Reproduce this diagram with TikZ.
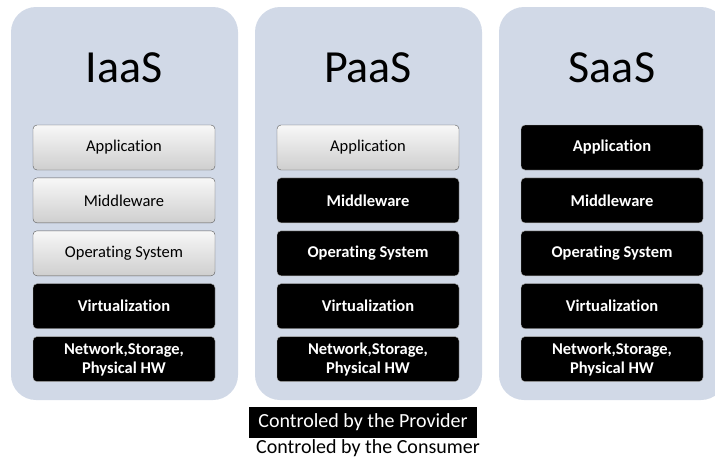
\documentclass[tikz,border=0pt]{standalone}
\usepackage{fontspec}
\setmainfont{Carlito}[Ligatures=NoCommon]
\usetikzlibrary{positioning}
\definecolor{panelblue}{HTML}{D1D9E7}
\tikzstyle{panel}=[rectangle,fill=panelblue,rounded corners=25pt,minimum width=227pt,minimum height=393pt,inner sep=0pt]
\tikzstyle{title}=[anchor=base,font=\fontsize{46}{50}\selectfont]
\tikzstyle{consumer}=[rectangle,draw=black!65,top color=gray!6,bottom color=gray!38,rounded corners=4pt,minimum width=182pt,minimum height=45pt,inner sep=0pt,align=center,font=\fontsize{16.5}{19}\selectfont]
\tikzstyle{provider}=[rectangle,draw=gray!60,fill=black,text=white,rounded corners=4pt,minimum width=182pt,minimum height=45pt,inner sep=0pt,align=center,font=\bfseries\fontsize{16.5}{19}\selectfont]
\tikzstyle{legendbox}=[rectangle,fill=black,text=white,minimum width=228pt,minimum height=31pt,inner sep=0pt,font=\fontsize{20}{24}\selectfont]

\begin{document}
\begin{tikzpicture}[x=1pt,y=-1pt]
    \clip (0,0) rectangle (715,459);

    % Spalten
    \node[panel] (iaas) at (124.5,203.5) {};
    \node[panel] (paas) at (368.5,203.5) {};
    \node[panel] (saas) at (612.5,203.5) {};
    \node[title] (tiaas) at (124,82) {IaaS};
    \node[title] (tpaas) at (368,82) {PaaS};
    \node[title] (tsaas) at (612,82) {SaaS};

    % IaaS
    \node[consumer] (iapp) at (124,147.5) {Application};
    \node[consumer] (imid) [below=7.5pt of iapp] {Middleware};
    \node[consumer] (ios) [below=7.5pt of imid] {Operating System};
    \node[provider] (ivirt) [below=7.5pt of ios] {Virtualization};
    \node[provider] (inet) [below=7.5pt of ivirt] {Network,Storage,\\Physical HW};

    % PaaS
    \node[consumer] (papp) at (368,147.5) {Application};
    \node[provider] (pmid) [below=7.5pt of papp] {Middleware};
    \node[provider] (pos) [below=7.5pt of pmid] {Operating System};
    \node[provider] (pvirt) [below=7.5pt of pos] {Virtualization};
    \node[provider] (pnet) [below=7.5pt of pvirt] {Network,Storage,\\Physical HW};

    % SaaS
    \node[provider] (sapp) at (612,147.5) {Application};
    \node[provider] (smid) [below=7.5pt of sapp] {Middleware};
    \node[provider] (sos) [below=7.5pt of smid] {Operating System};
    \node[provider] (svirt) [below=7.5pt of sos] {Virtualization};
    \node[provider] (snet) [below=7.5pt of svirt] {Network,Storage,\\Physical HW};

    % Legende
    \node[legendbox] (prov) at (363,422.5) {Controled by the Provider};
    \node[font=\fontsize{20}{24}\selectfont,inner sep=0pt] (cons) [below=1pt of prov, xshift=5pt] {Controled by the Consumer};

\end{tikzpicture}
\end{document}
